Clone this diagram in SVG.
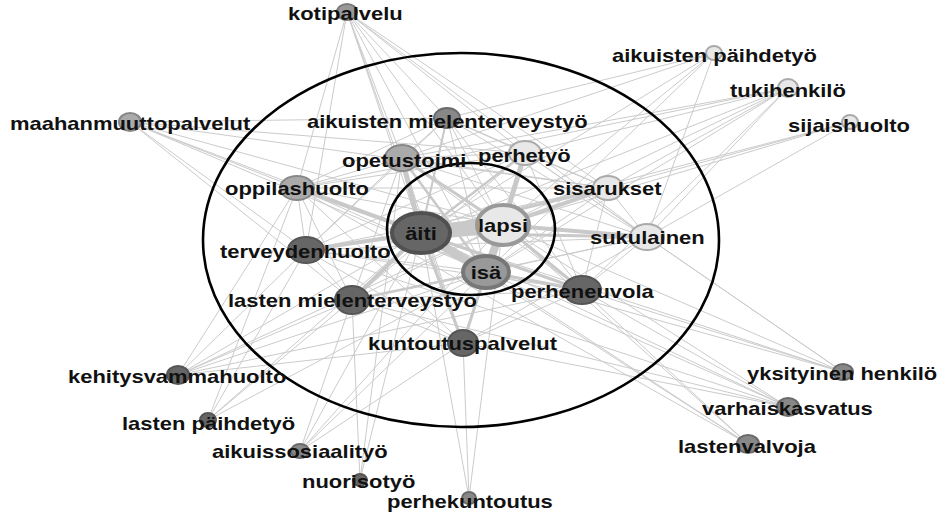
<svg xmlns="http://www.w3.org/2000/svg" width="942" height="512" viewBox="0 0 942 512">
<style>
.e{stroke:#cbcbcb;stroke-width:1;fill:none}
.t{stroke:#c9c9c9;fill:none;stroke-linecap:round}
.ring{fill:none;stroke:#000;stroke-width:2.6}
.lbl{font-family:"Liberation Sans",Arial,Helvetica,sans-serif;font-weight:bold;font-size:17.5px;fill:#111}
.n{stroke-width:2}
.dk{fill:#666;stroke:#555}
.md{fill:#888;stroke:#6a6a6a}
.mg{fill:#999;stroke:#7a7a7a}
.lg{fill:#aaa;stroke:#888}
.wh{fill:#e8e8e8;stroke:#aaa}
</style>
<rect width="942" height="512" fill="#fff"/>
<g id="connectors">
<!-- kotipalvelu -->
<line class="e" x1="347" y1="12" x2="297" y2="188"/>
<line class="e" x1="347" y1="12" x2="306" y2="250"/>
<line class="e" x1="347" y1="12" x2="421" y2="233"/>
<line class="e" x1="347" y1="12" x2="503" y2="225"/>
<line class="e" x1="347" y1="12" x2="486" y2="272"/>
<line class="e" x1="347" y1="12" x2="525" y2="153"/>
<line class="e" x1="347" y1="12" x2="608" y2="188"/>
<line class="e" x1="347" y1="12" x2="647" y2="237"/>
<line class="e" x1="347" y1="12" x2="447" y2="118"/>
<line class="e" x1="347" y1="12" x2="402" y2="158"/>
<line class="e" x1="347" y1="12" x2="463" y2="343"/>
<!-- maahanmuuttopalvelut -->
<line class="e" x1="130" y1="122" x2="297" y2="188"/>
<line class="e" x1="130" y1="122" x2="306" y2="250"/>
<line class="e" x1="130" y1="122" x2="352" y2="300"/>
<line class="e" x1="130" y1="122" x2="421" y2="233"/>
<line class="e" x1="130" y1="122" x2="503" y2="225"/>
<line class="e" x1="130" y1="122" x2="486" y2="272"/>
<line class="e" x1="130" y1="122" x2="608" y2="188"/>
<line class="e" x1="130" y1="122" x2="525" y2="153"/>
<line class="e" x1="130" y1="122" x2="447" y2="118"/>
<!-- aikuisten mielenterveystyö -->
<line class="e" x1="447" y1="118" x2="402" y2="158"/>
<line class="e" x1="447" y1="118" x2="525" y2="153"/>
<line class="e" x1="447" y1="118" x2="421" y2="233"/>
<line class="e" x1="447" y1="118" x2="503" y2="225"/>
<line class="e" x1="447" y1="118" x2="486" y2="272"/>
<line class="e" x1="447" y1="118" x2="297" y2="188"/>
<line class="e" x1="447" y1="118" x2="306" y2="250"/>
<line class="e" x1="447" y1="118" x2="647" y2="237"/>
<line class="e" x1="447" y1="118" x2="608" y2="188"/>
<line class="e" x1="447" y1="118" x2="582" y2="290"/>
<!-- opetustoimi -->
<line class="e" x1="402" y1="158" x2="297" y2="188"/>
<line class="e" x1="402" y1="158" x2="525" y2="153"/>
<line class="e" x1="402" y1="158" x2="306" y2="250"/>
<line class="e" x1="402" y1="158" x2="352" y2="300"/>
<line class="e" x1="402" y1="158" x2="608" y2="188"/>
<line class="e" x1="402" y1="158" x2="647" y2="237"/>
<line class="e" x1="402" y1="158" x2="582" y2="290"/>
<line class="e" x1="402" y1="158" x2="463" y2="343"/>
<!-- perhetyö -->
<line class="e" x1="525" y1="153" x2="608" y2="188"/>
<line class="e" x1="525" y1="153" x2="297" y2="188"/>
<line class="e" x1="525" y1="153" x2="306" y2="250"/>
<line class="e" x1="525" y1="153" x2="421" y2="233"/>
<line class="e" x1="525" y1="153" x2="486" y2="272"/>
<line class="e" x1="525" y1="153" x2="647" y2="237"/>
<line class="e" x1="525" y1="153" x2="582" y2="290"/>
<line class="e" x1="525" y1="153" x2="352" y2="300"/>
<!-- oppilashuolto -->
<line class="e" x1="297" y1="188" x2="306" y2="250"/>
<line class="e" x1="297" y1="188" x2="352" y2="300"/>
<line class="e" x1="297" y1="188" x2="486" y2="272"/>
<line class="e" x1="297" y1="188" x2="503" y2="225"/>
<line class="e" x1="297" y1="188" x2="608" y2="188"/>
<line class="e" x1="297" y1="188" x2="463" y2="343"/>
<!-- sisarukset -->
<line class="e" x1="608" y1="188" x2="647" y2="237"/>
<line class="e" x1="608" y1="188" x2="486" y2="272"/>
<line class="e" x1="608" y1="188" x2="582" y2="290"/>
<line class="e" x1="608" y1="188" x2="306" y2="250"/>
<!-- sukulainen -->
<line class="e" x1="647" y1="237" x2="486" y2="272"/>
<line class="e" x1="647" y1="237" x2="582" y2="290"/>
<line class="e" x1="647" y1="237" x2="463" y2="343"/>
<line class="e" x1="647" y1="237" x2="306" y2="250"/>
<line class="e" x1="647" y1="237" x2="352" y2="300"/>
<!-- terveydenhuolto -->
<line class="e" x1="306" y1="250" x2="352" y2="300"/>
<line class="e" x1="306" y1="250" x2="486" y2="272"/>
<line class="e" x1="306" y1="250" x2="503" y2="225"/>
<line class="e" x1="306" y1="250" x2="463" y2="343"/>
<line class="e" x1="306" y1="250" x2="582" y2="290"/>
<!-- lasten mielenterveystyö -->
<line class="e" x1="352" y1="300" x2="486" y2="272"/>
<line class="e" x1="352" y1="300" x2="503" y2="225"/>
<line class="e" x1="352" y1="300" x2="463" y2="343"/>
<line class="e" x1="352" y1="300" x2="582" y2="290"/>
<!-- perheneuvola / kuntoutus -->
<line class="e" x1="582" y1="290" x2="463" y2="343"/>
<line class="e" x1="463" y1="343" x2="503" y2="225"/>
<!-- aikuisten päihdetyö -->
<line class="e" x1="714" y1="53" x2="503" y2="225"/>
<line class="e" x1="714" y1="53" x2="421" y2="233"/>
<line class="e" x1="714" y1="53" x2="647" y2="237"/>
<line class="e" x1="714" y1="53" x2="447" y2="118"/>
<line class="e" x1="714" y1="53" x2="402" y2="158"/>
<line class="e" x1="714" y1="53" x2="486" y2="272"/>
<!-- tukihenkilö -->
<line class="e" x1="788" y1="88" x2="608" y2="188" stroke-width="1.6"/>
<line class="e" x1="788" y1="88" x2="503" y2="225" stroke-width="2"/>
<line class="e" x1="788" y1="88" x2="421" y2="233" stroke-width="2"/>
<line class="e" x1="788" y1="88" x2="525" y2="153"/>
<line class="e" x1="788" y1="88" x2="486" y2="272"/>
<line class="e" x1="788" y1="88" x2="647" y2="237"/>
<line class="e" x1="788" y1="88" x2="582" y2="290"/>
<line class="e" x1="788" y1="88" x2="402" y2="158"/>
<line class="e" x1="788" y1="88" x2="297" y2="188"/>
<!-- sijaishuolto -->
<line class="e" x1="850" y1="122" x2="503" y2="225"/>
<line class="e" x1="850" y1="122" x2="608" y2="188"/>
<line class="e" x1="850" y1="122" x2="421" y2="233"/>
<line class="e" x1="850" y1="122" x2="647" y2="237"/>
<!-- kehitysvammahuolto -->
<line class="e" x1="178" y1="375" x2="306" y2="250"/>
<line class="e" x1="178" y1="375" x2="352" y2="300"/>
<line class="e" x1="178" y1="375" x2="421" y2="233"/>
<line class="e" x1="178" y1="375" x2="503" y2="225"/>
<line class="e" x1="178" y1="375" x2="486" y2="272"/>
<line class="e" x1="178" y1="375" x2="463" y2="343"/>
<line class="e" x1="178" y1="375" x2="297" y2="188"/>
<line class="e" x1="178" y1="375" x2="582" y2="290"/>
<!-- lasten päihdetyö -->
<line class="e" x1="208" y1="420" x2="352" y2="300"/>
<line class="e" x1="208" y1="420" x2="306" y2="250"/>
<line class="e" x1="208" y1="420" x2="421" y2="233"/>
<line class="e" x1="208" y1="420" x2="297" y2="188"/>
<line class="e" x1="208" y1="420" x2="486" y2="272"/>
<!-- aikuissosiaalityö -->
<line class="e" x1="300" y1="451" x2="421" y2="233"/>
<line class="e" x1="300" y1="451" x2="486" y2="272"/>
<line class="e" x1="300" y1="451" x2="463" y2="343"/>
<line class="e" x1="300" y1="451" x2="352" y2="300"/>
<line class="e" x1="300" y1="451" x2="503" y2="225"/>
<!-- nuorisotyö -->
<line class="e" x1="360" y1="480" x2="352" y2="300"/>
<line class="e" x1="360" y1="480" x2="421" y2="233"/>
<line class="e" x1="360" y1="480" x2="402" y2="158"/>
<!-- perhekuntoutus -->
<line class="e" x1="469" y1="498" x2="421" y2="233"/>
<line class="e" x1="469" y1="498" x2="503" y2="225"/>
<line class="e" x1="469" y1="498" x2="463" y2="343"/>
<!-- yksityinen henkilö -->
<line class="e" x1="843" y1="372" x2="647" y2="237"/>
<line class="e" x1="843" y1="372" x2="582" y2="290"/>
<line class="e" x1="843" y1="372" x2="421" y2="233"/>
<line class="e" x1="843" y1="372" x2="503" y2="225"/>
<line class="e" x1="843" y1="372" x2="486" y2="272"/>
<line class="e" x1="843" y1="372" x2="525" y2="153"/>
<!-- varhaiskasvatus -->
<line class="e" x1="788" y1="407" x2="582" y2="290"/>
<line class="e" x1="788" y1="407" x2="486" y2="272"/>
<line class="e" x1="788" y1="407" x2="421" y2="233"/>
<line class="e" x1="788" y1="407" x2="503" y2="225"/>
<line class="e" x1="788" y1="407" x2="352" y2="300"/>
<line class="e" x1="788" y1="407" x2="463" y2="343"/>
<line class="e" x1="788" y1="407" x2="306" y2="250"/>
<!-- lastenvalvoja -->
<line class="e" x1="748" y1="444" x2="421" y2="233"/>
<line class="e" x1="748" y1="444" x2="486" y2="272"/>
<line class="e" x1="748" y1="444" x2="503" y2="225"/>
<line class="e" x1="748" y1="444" x2="582" y2="290"/>
<line class="e" x1="748" y1="444" x2="297" y2="188"/>
<!-- thick core edges -->
<line class="t" x1="421" y1="233" x2="402" y2="158" stroke-width="5"/>
<line class="t" x1="421" y1="233" x2="297" y2="188" stroke-width="4"/>
<line class="t" x1="421" y1="233" x2="306" y2="250" stroke-width="4"/>
<line class="t" x1="421" y1="233" x2="352" y2="300" stroke-width="4"/>
<line class="t" x1="421" y1="233" x2="582" y2="290" stroke-width="3"/>
<line class="t" x1="421" y1="233" x2="608" y2="188" stroke-width="3"/>
<line class="t" x1="421" y1="233" x2="647" y2="237" stroke-width="3"/>
<line class="t" x1="421" y1="233" x2="463" y2="343" stroke-width="3"/>
<line class="t" x1="421" y1="233" x2="447" y2="118" stroke-width="2"/>
<line class="t" x1="421" y1="233" x2="525" y2="153" stroke-width="2.5"/>
<line class="t" x1="503" y1="225" x2="525" y2="153" stroke-width="5"/>
<line class="t" x1="503" y1="225" x2="608" y2="188" stroke-width="4"/>
<line class="t" x1="503" y1="225" x2="647" y2="237" stroke-width="4"/>
<line class="t" x1="503" y1="225" x2="402" y2="158" stroke-width="3"/>
<line class="t" x1="503" y1="225" x2="582" y2="290" stroke-width="3"/>
<line class="t" x1="486" y1="272" x2="582" y2="290" stroke-width="3"/>
<line class="t" x1="486" y1="272" x2="463" y2="343" stroke-width="3"/>
<line class="t" x1="486" y1="272" x2="402" y2="158" stroke-width="2.5"/>
<line class="t" x1="486" y1="272" x2="352" y2="300" stroke-width="2.5"/>
<line class="t" x1="421" y1="233" x2="486" y2="272" stroke-width="9"/>
<line class="t" x1="503" y1="225" x2="486" y2="272" stroke-width="8"/>
<line class="t" x1="421" y1="233" x2="503" y2="225" stroke-width="15"/>
</g>
<ellipse class="ring" cx="461" cy="240" rx="258" ry="187"/>
<ellipse class="ring" cx="471" cy="229" rx="84" ry="66"/>
<g id="nodes">
<g id="n-kotipalvelu"><ellipse class="n mg" cx="347" cy="12" rx="10" ry="8"/><text class="lbl" transform="translate(288,20) scale(1.255,1)">kotipalvelu</text></g>
<g id="n-maahanmuuttopalvelut"><ellipse class="n lg" cx="130" cy="122" rx="11" ry="9"/><text class="lbl" transform="translate(10,130) scale(1.255,1)">maahanmuuttopalvelut</text></g>
<g id="n-aikuisten-mielenterveystyo"><ellipse class="n md" cx="447" cy="118" rx="13" ry="10"/><text class="lbl" transform="translate(307,128) scale(1.255,1)">aikuisten mielenterveystyö</text></g>
<g id="n-opetustoimi"><ellipse class="n lg" cx="402" cy="158" rx="17" ry="13"/><text class="lbl" transform="translate(342,167) scale(1.255,1)">opetustoimi</text></g>
<g id="n-perhetyo"><ellipse class="n wh" cx="525" cy="153" rx="16" ry="12"/><text class="lbl" transform="translate(478,162) scale(1.255,1)">perhetyö</text></g>
<g id="n-oppilashuolto"><ellipse class="n lg" cx="297" cy="188" rx="17" ry="12"/><text class="lbl" transform="translate(225,195) scale(1.255,1)">oppilashuolto</text></g>
<g id="n-sisarukset"><ellipse class="n wh" cx="608" cy="188" rx="15" ry="12"/><text class="lbl" transform="translate(553,195) scale(1.255,1)">sisarukset</text></g>
<g id="n-sukulainen"><ellipse class="n wh" cx="647" cy="237" rx="17" ry="13"/><text class="lbl" transform="translate(590,244) scale(1.255,1)">sukulainen</text></g>
<g id="n-terveydenhuolto"><ellipse class="n dk" cx="306" cy="250" rx="18" ry="13"/><text class="lbl" transform="translate(220,258) scale(1.255,1)">terveydenhuolto</text></g>
<g id="n-lasten-mielenterveystyo"><ellipse class="n dk" cx="352" cy="300" rx="17" ry="14"/><text class="lbl" transform="translate(228,307) scale(1.255,1)">lasten mielenterveystyö</text></g>
<g id="n-perheneuvola"><ellipse class="n dk" cx="582" cy="290" rx="19" ry="14"/><text class="lbl" transform="translate(511,298) scale(1.255,1)">perheneuvola</text></g>
<g id="n-kuntoutuspalvelut"><ellipse class="n dk" cx="463" cy="343" rx="15" ry="13"/><text class="lbl" transform="translate(368,350) scale(1.255,1)">kuntoutuspalvelut</text></g>
<g id="n-aiti"><ellipse cx="421" cy="233" rx="29" ry="20" fill="#666" stroke="#505050" stroke-width="4"/><text class="lbl" text-anchor="middle" transform="translate(421,240) scale(1.255,1)">äiti</text></g>
<g id="n-lapsi"><ellipse cx="503" cy="225" rx="26" ry="20" fill="#e8e8e8" stroke="#999" stroke-width="4"/><text class="lbl" text-anchor="middle" transform="translate(503,232) scale(1.255,1)">lapsi</text></g>
<g id="n-isa"><ellipse cx="486" cy="272" rx="23" ry="16" fill="#999" stroke="#777" stroke-width="4"/><text class="lbl" text-anchor="middle" transform="translate(486,279) scale(1.255,1)">isä</text></g>
<g id="n-aikuisten-paihdetyo"><ellipse class="n wh" cx="714" cy="53" rx="8" ry="7"/><text class="lbl" transform="translate(612,62) scale(1.255,1)">aikuisten päihdetyö</text></g>
<g id="n-tukihenkilo"><ellipse class="n wh" cx="788" cy="88" rx="10" ry="9"/><text class="lbl" transform="translate(730,97) scale(1.255,1)">tukihenkilö</text></g>
<g id="n-sijaishuolto"><ellipse class="n wh" cx="850" cy="122" rx="8" ry="7"/><text class="lbl" transform="translate(788,132) scale(1.255,1)">sijaishuolto</text></g>
<g id="n-kehitysvammahuolto"><ellipse class="n dk" cx="178" cy="375" rx="11" ry="9" fill="#777"/><text class="lbl" transform="translate(68,383) scale(1.255,1)">kehitysvammahuolto</text></g>
<g id="n-lasten-paihdetyo"><ellipse class="n dk" cx="208" cy="420" rx="8" ry="7"/><text class="lbl" transform="translate(122,430) scale(1.255,1)">lasten päihdetyö</text></g>
<g id="n-aikuissosiaalityo"><ellipse class="n md" cx="300" cy="451" rx="9" ry="7"/><text class="lbl" transform="translate(212,458) scale(1.255,1)">aikuissosiaalityö</text></g>
<g id="n-nuorisotyo"><ellipse class="n dk" cx="360" cy="480" rx="7" ry="6"/><text class="lbl" transform="translate(302,488) scale(1.255,1)">nuorisotyö</text></g>
<g id="n-perhekuntoutus"><ellipse class="n md" cx="469" cy="498" rx="7" ry="6"/><text class="lbl" transform="translate(387,508) scale(1.255,1)">perhekuntoutus</text></g>
<g id="n-yksityinen-henkilo"><ellipse class="n md" cx="843" cy="372" rx="10" ry="8"/><text class="lbl" transform="translate(747,380) scale(1.255,1)">yksityinen henkilö</text></g>
<g id="n-varhaiskasvatus"><ellipse class="n md" cx="788" cy="407" rx="11" ry="9"/><text class="lbl" transform="translate(702,415) scale(1.255,1)">varhaiskasvatus</text></g>
<g id="n-lastenvalvoja"><ellipse class="n md" cx="748" cy="444" rx="11" ry="9"/><text class="lbl" transform="translate(678,453) scale(1.255,1)">lastenvalvoja</text></g>
</g>
</svg>
